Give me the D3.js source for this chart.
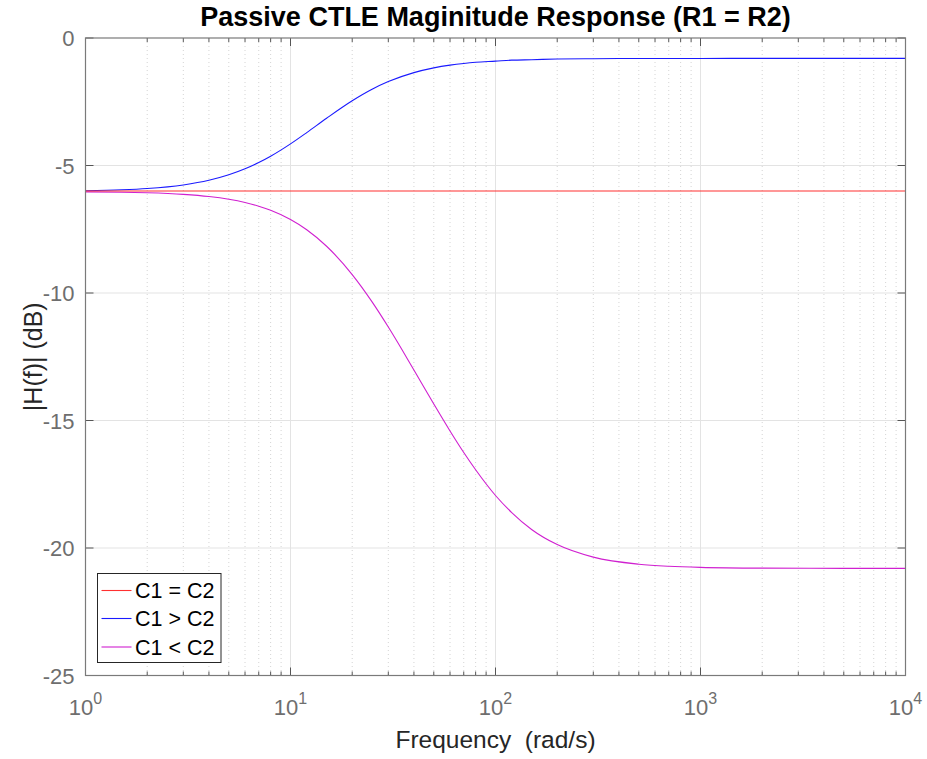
<!DOCTYPE html>
<html><head><meta charset="utf-8">
<script src="https://cdn.jsdelivr.net/npm/d3@7"></script>
<style>body{margin:0;background:#fff;} svg{display:block;font-family:"Liberation Sans",Arial,sans-serif;}</style>
</head><body>
<svg id="chart" width="927" height="759"></svg>
<script>
const title = "Passive CTLE Maginitude Response (R1 = R2)";
const xLabel = "Frequency  (rad/s)";
const yLabel = "|H(f)| (dB)";
const freq = [1,1.5,2,3,4,5,6,7,8,10,12,15,20,25,30,40,50,60,70,80,100,120,150,200,300,500,700,1000,2000,5000,10000];
const equalC = freq.map(() => -6.0);
const c1GreaterC2 = [-5.990,-5.953,-5.902,-5.762,-5.580,-5.366,-5.131,-4.884,-4.636,-4.152,-3.709,-3.145,-2.460,-2.009,-1.709,-1.358,-1.172,-1.065,-0.998,-0.953,-0.908,-0.869,-0.851,-0.825,-0.811,-0.804,-0.802,-0.801,-0.800,-0.800,-0.800];
const c1LessC2 = [-6.033,-6.049,-6.071,-6.133,-6.218,-6.325,-6.451,-6.595,-6.757,-7.119,-7.520,-8.167,-9.279,-10.349,-11.334,-13.018,-14.353,-15.411,-16.256,-16.933,-17.941,-18.609,-19.273,-19.867,-20.359,-20.635,-20.715,-20.758,-20.789,-20.799,-20.800];
const seriesNames = ["C1 = C2","C1 > C2","C1 < C2"];
const seriesColors = ["#ff3030","#1a1aff","#d020d0"];
const yTicks = [-25,-20,-15,-10,-5,0];
const xDecades = [0,1,2,3,4];

const svg = d3.select("#chart");
const L = 85.5, R = 905.5, T = 38, B = 675.5;
const x = d3.scaleLog().domain([1,1e4]).range([L,R]);
const y = d3.scaleLinear().domain([-25,0]).range([B,T]);

const minor = [];
for (let d = 0; d < 4; d++) for (let k = 2; k <= 9; k++) minor.push(k*Math.pow(10,d));
const major = xDecades.map(d => Math.pow(10,d));

// grid
const g = svg.append("g");
g.selectAll(".mg").data(minor).enter().append("line")
  .attr("x1", d=>x(d)).attr("x2", d=>x(d)).attr("y1",T).attr("y2",B)
  .attr("stroke","#d4d4d4").attr("stroke-width",1).attr("stroke-dasharray","1,3");
g.selectAll(".Mg").data(major.slice(1,-1)).enter().append("line")
  .attr("x1", d=>x(d)).attr("x2", d=>x(d)).attr("y1",T).attr("y2",B)
  .attr("stroke","#e3e3e3").attr("stroke-width",1);
g.selectAll(".yg").data(yTicks.slice(1,-1)).enter().append("line")
  .attr("x1",L).attr("x2",R).attr("y1",d=>y(d)).attr("y2",d=>y(d))
  .attr("stroke","#e3e3e3").attr("stroke-width",1);

// lines
const lineLin = d3.line().x((d,i)=>x(freq[i])).y(d=>y(d));
const line = d3.line().x((d,i)=>x(freq[i])).y(d=>y(d)).curve(d3.curveMonotoneX);
svg.append("path").datum(c1GreaterC2).attr("d",line).attr("fill","none")
  .attr("stroke",seriesColors[1]).attr("stroke-width",1.1);
svg.append("path").datum(c1LessC2).attr("d",line).attr("fill","none")
  .attr("stroke",seriesColors[2]).attr("stroke-width",1.1);
svg.append("path").datum(equalC).attr("d",lineLin).attr("fill","none")
  .attr("stroke",seriesColors[0]).attr("stroke-width",1.2);

// ticks
const tk = svg.append("g").attr("stroke","#555").attr("stroke-width",1);
major.forEach(v=>{
  tk.append("line").attr("x1",x(v)).attr("x2",x(v)).attr("y1",B).attr("y2",B-8);
  tk.append("line").attr("x1",x(v)).attr("x2",x(v)).attr("y1",T).attr("y2",T+8);
});
minor.forEach(v=>{
  tk.append("line").attr("x1",x(v)).attr("x2",x(v)).attr("y1",B).attr("y2",B-4);
  tk.append("line").attr("x1",x(v)).attr("x2",x(v)).attr("y1",T).attr("y2",T+4);
});
yTicks.forEach(v=>{
  tk.append("line").attr("x1",L).attr("x2",L+8).attr("y1",y(v)).attr("y2",y(v));
  tk.append("line").attr("x1",R).attr("x2",R-8).attr("y1",y(v)).attr("y2",y(v));
});
// box
svg.append("rect").attr("x",L).attr("y",T).attr("width",R-L).attr("height",B-T)
  .attr("fill","none").attr("stroke","#7a7a7a").attr("stroke-width",1.2);

// y tick labels
svg.selectAll(".yl").data(yTicks).enter().append("text")
  .attr("x",L-11).attr("y",d=>y(d)+8).attr("text-anchor","end")
  .attr("font-size",22).attr("fill","#6e6e6e").text(d=>d);
// x tick labels
xDecades.forEach(d=>{
  const t = svg.append("text").attr("x",x(Math.pow(10,d))).attr("y",715)
    .attr("text-anchor","middle").attr("font-size",22).attr("fill","#6e6e6e");
  t.append("tspan").text("10");
  t.append("tspan").attr("dy",-11).attr("font-size",16).text(d);
});

// title & labels
svg.append("text").attr("x",(L+R)/2).attr("y",26).attr("text-anchor","middle")
  .attr("font-size",27).attr("font-weight","bold").attr("fill","#000").text(title);
svg.append("text").attr("x",(L+R)/2).attr("y",748).attr("text-anchor","middle")
  .attr("font-size",24.5).attr("fill","#262626").style("white-space","pre").text(xLabel);
svg.append("text").attr("transform",`translate(42,${(T+B)/2}) rotate(-90)`).attr("text-anchor","middle")
  .attr("font-size",25).attr("fill","#262626").text(yLabel);

// legend
const lg = svg.append("g");
lg.append("rect").attr("x",97.5).attr("y",573.5).attr("width",123.5).attr("height",89)
  .attr("fill","#fff").attr("stroke","#262626").attr("stroke-width",1);
const rowsY = [590.5,618.5,647];
seriesNames.forEach((n,i)=>{
  lg.append("line").attr("x1",101.5).attr("x2",131.5).attr("y1",rowsY[i]).attr("y2",rowsY[i])
    .attr("stroke",seriesColors[i]).attr("stroke-width",1.1);
  lg.append("text").attr("x",135).attr("y",rowsY[i]+7.5).attr("font-size",21.5)
    .attr("fill","#000").text(n);
});
</script>
</body></html>
